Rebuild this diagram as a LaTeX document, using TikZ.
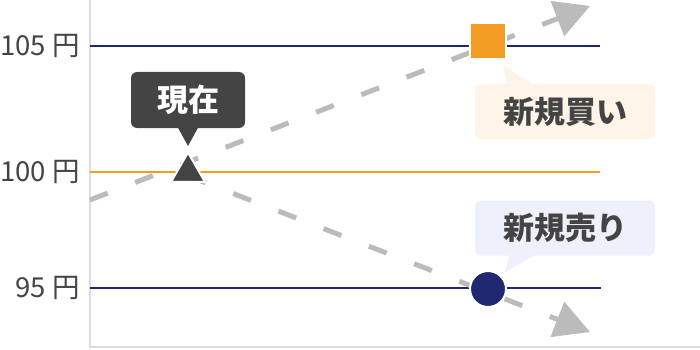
\documentclass[tikz,border=0pt]{standalone}
\usepackage{fontspec}
\setmainfont{Noto Sans CJK JP}
\usetikzlibrary{arrows.meta,shapes.geometric}
\definecolor{navyc}{HTML}{1F2870}
\definecolor{orangec}{HTML}{F39C24}
\definecolor{dashc}{HTML}{BBBBBB}
\definecolor{axisc}{HTML}{DDDDDD}
\definecolor{darkc}{HTML}{444444}
\definecolor{buyfill}{HTML}{FFF4E8}
\definecolor{sellfill}{HTML}{EEF0FB}
\tikzset{
  axisline/.style={draw=axisc, line width=2pt},
  navyline/.style={draw=navyc, line width=2pt},
  orangeline/.style={draw=orangec, line width=2pt},
  dashline/.style={draw=dashc, line width=5pt, dash pattern=on 19pt off 29.5pt,
    -{Triangle[length=35pt,width=38pt,line width=0pt]}},
  ylab/.style={anchor=base east, inner sep=0pt, text=darkc, font=\fontsize{27.5}{32}\selectfont},
  callout/.style={rectangle, rounded corners=6pt, inner sep=0pt, minimum width=180pt,
    minimum height=55pt, text=darkc, font=\bfseries\fontsize{31}{34}\selectfont},
  marker/.style={draw=white, line width=2pt, inner sep=0pt}
}
\begin{document}
\begin{tikzpicture}[x=1pt,y=-1pt]
\useasboundingbox (0,0) rectangle (700,350);
% axes
\draw[axisline] (90,0) -- (90,347) -- (700,347);
% price lines
\draw[navyline] (90,46) -- (600,46);
\draw[orangeline] (90,172) -- (600,172);
\draw[navyline] (90,288) -- (601,288);
% labels
\node[ylab] (l105) at (80,55.7) {105 円};
\node[ylab] (l100) at (80,181.7) {100 円};
\node[ylab] (l95) at (80,297.7) {95 円};
% dashed paths
\coordinate (upstart) at (90,200);
\coordinate (uptip) at (590,6);
\coordinate (lowstart) at (188,176);
\coordinate (lowtip) at (590,332);
\draw[dashline] (upstart) -- (uptip);
\draw[dashline] (lowstart) -- (lowtip);
% markers
\node[marker, regular polygon, regular polygon sides=3, minimum size=39pt, fill=darkc] (now) at (188,172) {};
\node[marker, rectangle, minimum size=36pt, fill=orangec] (buypt) at (488,41) {};
\node[marker, circle, minimum size=36pt, fill=navyc] (sellpt) at (488,289) {};
% current callout
\node[callout, fill=darkc, text=white, minimum width=114pt, minimum height=56pt] (nowlab) at (188,100) {現在};
\fill[darkc] (177,126) -- (199,126) -- (188,146) -- cycle;
% buy callout
\node[callout, fill=buyfill] (buylab) at (565,111.5) {新規買い};
\fill[buyfill] (503,65) -- (508,86) -- (535,86) -- cycle;
% sell callout
\node[callout, fill=sellfill] (selllab) at (565,228) {新規売り};
\fill[sellfill] (505,272) -- (510,254) -- (537,254) -- cycle;
\end{tikzpicture}
\end{document}
